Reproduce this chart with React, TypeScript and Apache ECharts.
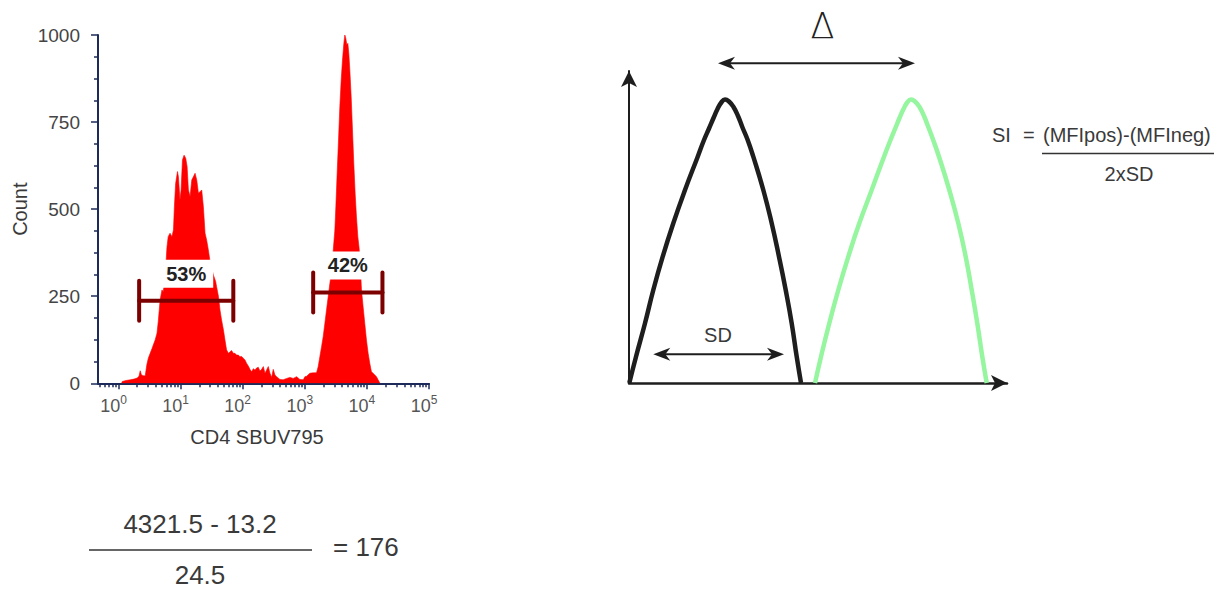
import React, { useEffect, useRef } from 'react';
import * as echarts from 'echarts';

const FONT = "'Liberation Sans', Arial, Helvetica, sans-serif";
const NAVY = '#1c2b5a';
const TEXT = '#3a3a3a';
const RED = '#ff0000';
const GATE = '#7d0000';

// ---- Histogram: [log10 fluorescence (CD4 SBUV795), count] ----
const histogram: [number, number][] = [
  [0.05, 0], [0.06, 5], [0.12, 8], [0.19, 10], [0.25, 12], [0.30, 15], [0.33, 20], [0.35, 36],
  [0.37, 24], [0.40, 22], [0.43, 21], [0.456, 53], [0.48, 72], [0.51, 86], [0.54, 100], [0.56, 110],
  [0.59, 124], [0.62, 144], [0.64, 177], [0.67, 239], [0.70, 268], [0.72, 263], [0.75, 300], [0.78, 390],
  [0.80, 421], [0.83, 431], [0.86, 421], [0.885, 440], [0.90, 507], [0.92, 574], [0.95, 608], [0.965, 593],
  [0.99, 526], [1.008, 555], [1.03, 641], [1.056, 655], [1.083, 646], [1.105, 622], [1.126, 555], [1.153, 536],
  [1.18, 584], [1.206, 593], [1.233, 603], [1.26, 584], [1.287, 546], [1.313, 550], [1.34, 555], [1.367, 507],
  [1.394, 431], [1.42, 411], [1.447, 383], [1.474, 350], [1.50, 330], [1.53, 310], [1.565, 292], [1.58, 277],
  [1.61, 249], [1.635, 210], [1.66, 182], [1.69, 153], [1.715, 124], [1.74, 96], [1.77, 86], [1.80, 91],
  [1.82, 94], [1.85, 86], [1.876, 86], [1.90, 81], [1.93, 81], [1.956, 76], [1.983, 77], [2.01, 72],
  [2.037, 67], [2.064, 57], [2.09, 50], [2.117, 40], [2.144, 33], [2.171, 42], [2.198, 38], [2.224, 44],
  [2.251, 46], [2.278, 35], [2.305, 40], [2.332, 48], [2.359, 29], [2.385, 38], [2.412, 48], [2.439, 29],
  [2.466, 17], [2.492, 40], [2.519, 24], [2.546, 19], [2.60, 11], [2.653, 10], [2.707, 14], [2.76, 17],
  [2.814, 14], [2.868, 19], [2.921, 11], [2.975, 10], [3.002, 19], [3.028, 20], [3.082, 29], [3.136, 30],
  [3.189, 30], [3.216, 48], [3.243, 77], [3.27, 105], [3.296, 134], [3.323, 172], [3.35, 211], [3.377, 249],
  [3.404, 287], [3.43, 320], [3.457, 380], [3.484, 440], [3.50, 507], [3.521, 603], [3.543, 699], [3.564, 794],
  [3.586, 871], [3.607, 928], [3.629, 976], [3.645, 1000], [3.661, 990], [3.677, 971], [3.693, 976], [3.709, 947],
  [3.725, 900], [3.747, 823], [3.768, 727], [3.789, 632], [3.811, 545], [3.832, 478], [3.854, 421], [3.875, 388],
  [3.896, 330], [3.913, 268], [3.939, 220], [3.966, 172], [3.993, 124], [4.02, 86], [4.047, 57], [4.073, 33],
  [4.10, 29], [4.127, 24], [4.154, 19], [4.18, 10], [4.21, 0],
];

// Gates (fluorescence bounds, count level, label)
const gateLow = [2.15, 1365];
const gateHigh = [70.6, 17800];
const gateLevel = [237, 261];
const gateLabels = ['53%', '42%'];

// Axis ticks
const decadeTicks = [0, 1, 2, 3, 4, 5];
const supDigits = ['0', '1', '2', '3', '4', '5'];
const yTickInterval = 250;
const xMinLog = -0.33;
const xMaxLog = 5;

const minorTicks: number[] = [];
[0.5, 0.6, 0.7, 0.8, 0.9].forEach((v) => minorTicks.push(Math.log10(v)));
for (let d = 0; d < 5; d++) {
  for (let k = 2; k <= 9; k++) minorTicks.push(d + Math.log10(k));
}

// ---- Schematic (arbitrary units) ----
const negativeCurve: [number, number][] = [
  [0.3, 0], [7, 26.3], [16, 59.7], [24.3, 93], [33.7, 126.3], [44.3, 159.7], [56, 193], [68.7, 226.3],
  [75, 243], [80, 254.5], [84.5, 265], [88.5, 274], [92.3, 280.5], [96, 283.5], [100, 281.5], [104.5, 276],
  [109, 267], [113.5, 255.5], [118.5, 243.5], [124.3, 226.3],
  [134.3, 193], [142.7, 159.7], [150, 126.3], [156.7, 93], [162.7, 59.7], [167.7, 26.3], [172, 0],
];
const positiveCurve: [number, number][] = [
  [186, 0], [192, 26.3], [200.3, 59.7], [209.3, 93], [219.3, 126.3], [230.3, 159.7], [242.7, 193], [255, 226.3],
  [261.5, 243], [266.2, 254.5], [270.5, 265], [274.5, 274], [278.2, 280.5], [282, 283.5], [286, 281.5], [290.5, 276],
  [295, 267], [299.5, 255.5], [304, 243.5], [310, 226.3],
  [320.3, 193], [329.3, 159.7], [336.7, 126.3], [342.7, 93], [348.3, 59.7], [353.3, 26.3], [357.7, 0],
];
// double arrows: [from, to, level]
const arrows: [number, number, number][] = [
  [89, 286, 319.7],
  [24.3, 155, 28.7],
];

function arrowHead(tx: number, ty: number, dir: number) {
  const L = 17, W = 6.5, N = 5;
  return {
    type: 'polygon',
    shape: {
      points: [
        [tx, ty],
        [tx + dir * L, ty - W],
        [tx + dir * (L - N), ty],
        [tx + dir * L, ty + W],
      ],
    },
    style: { fill: '#1e1e1e' },
  };
}

function buildOption() {
  return {
    animation: false,
    backgroundColor: '#ffffff',
    grid: [
      { left: 98, top: 35, width: 331, height: 348.3 },
      { left: 629, top: 71, width: 378, height: 312 },
    ],
    xAxis: [
      {
        gridIndex: 0,
        type: 'value',
        min: xMinLog,
        max: xMaxLog,
        name: 'CD4 SBUV795',
        nameLocation: 'middle',
        nameGap: 44,
        nameTextStyle: { fontFamily: FONT, fontSize: 20, color: TEXT, padding: [0, 13, 0, 0] },
        axisLine: { show: true, onZero: false, lineStyle: { color: NAVY, width: 2 } },
        axisTick: { show: true, customValues: decadeTicks, length: 6, lineStyle: { color: NAVY, width: 1.5 } },
        axisLabel: {
          customValues: decadeTicks,
          margin: 11,
          padding: [0, 10, 0, 0],
          formatter: (v: number) => `{b|10}{s|${supDigits[Math.round(v)]}}`,
          rich: {
            b: { fontFamily: FONT, fontSize: 18, color: '#555', verticalAlign: 'bottom', lineHeight: 21 },
            s: { fontFamily: FONT, fontSize: 12, color: '#555', verticalAlign: 'top', lineHeight: 21 },
          },
        },
        splitLine: { show: false },
      },
      {
        gridIndex: 0,
        type: 'value',
        position: 'bottom',
        min: xMinLog,
        max: xMaxLog,
        axisLine: { show: false, onZero: false },
        axisTick: { show: true, customValues: minorTicks, length: 4, lineStyle: { color: NAVY, width: 1.5 } },
        axisLabel: { show: false },
        splitLine: { show: false },
      },
      {
        gridIndex: 1,
        type: 'value',
        min: 0,
        max: 378,
        axisLine: {
          show: true,
          onZero: false,
          symbol: ['none', 'arrow'],
          symbolSize: [12, 16],
          lineStyle: { color: '#1e1e1e', width: 2.5 },
        },
        axisTick: { show: false },
        axisLabel: { show: false },
        splitLine: { show: false },
      },
    ],
    yAxis: [
      {
        gridIndex: 0,
        type: 'value',
        min: 0,
        max: 1000,
        interval: yTickInterval,
        name: 'Count',
        nameLocation: 'middle',
        nameGap: 68,
        nameRotate: 90,
        nameTextStyle: { fontFamily: FONT, fontSize: 20, color: TEXT },
        axisLine: { show: true, onZero: false, lineStyle: { color: NAVY, width: 2 } },
        axisTick: { show: true, length: 7, lineStyle: { color: NAVY, width: 1.5 } },
        minorTick: { show: true, splitNumber: 4, length: 4, lineStyle: { color: NAVY, width: 1.5 } },
        axisLabel: { margin: 18, fontFamily: FONT, fontSize: 19, color: '#444', formatter: (v: number) => String(v) },
        splitLine: { show: false },
      },
      {
        gridIndex: 1,
        type: 'value',
        min: 0,
        max: 312,
        axisLine: {
          show: true,
          onZero: false,
          symbol: ['none', 'arrow'],
          symbolSize: [12, 16],
          lineStyle: { color: '#1e1e1e', width: 2 },
        },
        axisTick: { show: false },
        axisLabel: { show: false },
        splitLine: { show: false },
      },
    ],
    series: [
      {
        type: 'line',
        xAxisIndex: 0,
        yAxisIndex: 0,
        data: histogram,
        symbol: 'none',
        lineStyle: { color: RED, width: 0.6 },
        areaStyle: { color: RED, opacity: 1 },
        z: 2,
      },
      {
        type: 'custom',
        xAxisIndex: 0,
        yAxisIndex: 0,
        z: 5,
        data: gateLow.map((lo, i) => [Math.log10(lo), Math.log10(gateHigh[i]), gateLevel[i]]),
        renderItem: (params: any, api: any) => {
          const p1 = api.coord([api.value(0), api.value(2)]);
          const p2 = api.coord([api.value(1), api.value(2)]);
          const st = { stroke: GATE, lineWidth: 4, lineCap: 'round' };
          return {
            type: 'group',
            children: [
              { type: 'line', shape: { x1: p1[0], y1: p1[1], x2: p2[0], y2: p2[1] }, style: st },
              { type: 'line', shape: { x1: p1[0], y1: p1[1] - 20, x2: p1[0], y2: p1[1] + 20 }, style: st },
              { type: 'line', shape: { x1: p2[0], y1: p2[1] - 20, x2: p2[0], y2: p2[1] + 20 }, style: st },
              {
                type: 'text',
                x: (p1[0] + p2[0]) / 2,
                y: p1[1] - 27,
                style: {
                  text: gateLabels[params.dataIndex],
                  fill: '#222',
                  fontFamily: FONT,
                  fontSize: 20,
                  fontWeight: 'bold',
                  align: 'center',
                  verticalAlign: 'middle',
                  backgroundColor: '#ffffff',
                  padding: [4, 7],
                },
              },
            ],
          };
        },
      },
      {
        type: 'line',
        xAxisIndex: 2,
        yAxisIndex: 1,
        data: negativeCurve,
        smooth: 0.5,
        symbol: 'none',
        clip: false,
        lineStyle: { color: '#1e1e1e', width: 4.5 },
      },
      {
        type: 'line',
        xAxisIndex: 2,
        yAxisIndex: 1,
        data: positiveCurve,
        smooth: 0.5,
        symbol: 'none',
        clip: false,
        lineStyle: { color: '#96f59f', width: 4.5 },
      },
      {
        type: 'custom',
        xAxisIndex: 2,
        yAxisIndex: 1,
        data: arrows,
        renderItem: (params: any, api: any) => {
          const a = api.coord([api.value(0), api.value(2)]);
          const b = api.coord([api.value(1), api.value(2)]);
          return {
            type: 'group',
            children: [
              {
                type: 'line',
                shape: { x1: a[0] + 5, y1: a[1], x2: b[0] - 5, y2: b[1] },
                style: { stroke: '#1e1e1e', lineWidth: 2 },
              },
              arrowHead(a[0], a[1], 1),
              arrowHead(b[0], b[1], -1),
            ],
          };
        },
      },
    ],
    graphic: [
      { type: 'text', x: 822.5, y: 26, style: { text: 'Δ', fontFamily: "'DejaVu Sans', " + FONT, fontWeight: 200, fontSize: 35, fill: '#222', align: 'center', verticalAlign: 'middle' } },
      { type: 'text', x: 718, y: 335, style: { text: 'SD', fontFamily: FONT, fontSize: 20, fill: TEXT, align: 'center', verticalAlign: 'middle' } },
      { type: 'text', x: 992, y: 135, style: { text: 'SI', fontFamily: FONT, fontSize: 20, fill: TEXT, align: 'left', verticalAlign: 'middle' } },
      { type: 'text', x: 1023, y: 135, style: { text: '=', fontFamily: FONT, fontSize: 20, fill: TEXT, align: 'left', verticalAlign: 'middle' } },
      { type: 'text', x: 1043, y: 135, style: { text: '(MFIpos)-(MFIneg)', fontFamily: FONT, fontSize: 20, fill: TEXT, align: 'left', verticalAlign: 'middle' } },
      { type: 'line', shape: { x1: 1042, y1: 153.5, x2: 1214, y2: 153.5 }, style: { stroke: '#333', lineWidth: 1.3 } },
      { type: 'text', x: 1129, y: 174, style: { text: '2xSD', fontFamily: FONT, fontSize: 20, fill: TEXT, align: 'center', verticalAlign: 'middle' } },
      { type: 'text', x: 200, y: 524, style: { text: '4321.5 - 13.2', fontFamily: FONT, fontSize: 26, fill: TEXT, align: 'center', verticalAlign: 'middle' } },
      { type: 'line', shape: { x1: 89, y1: 550, x2: 312, y2: 550 }, style: { stroke: '#333', lineWidth: 1.3 } },
      { type: 'text', x: 200, y: 575, style: { text: '24.5', fontFamily: FONT, fontSize: 26, fill: TEXT, align: 'center', verticalAlign: 'middle' } },
      { type: 'text', x: 333, y: 547, style: { text: '= 176', fontFamily: FONT, fontSize: 26, fill: TEXT, align: 'left', verticalAlign: 'middle' } },
    ],
  };
}

export default function App() {
  const ref = useRef<HTMLDivElement>(null);
  useEffect(() => {
    if (!ref.current) return;
    const chart = echarts.init(ref.current, null, { renderer: 'svg' });
    chart.setOption(buildOption() as any);
    return () => chart.dispose();
  }, []);
  return (
    <div
      ref={ref}
      style={{ position: 'absolute', left: 0, top: 0, width: 1214, height: 589, background: '#fff' }}
    />
  );
}
